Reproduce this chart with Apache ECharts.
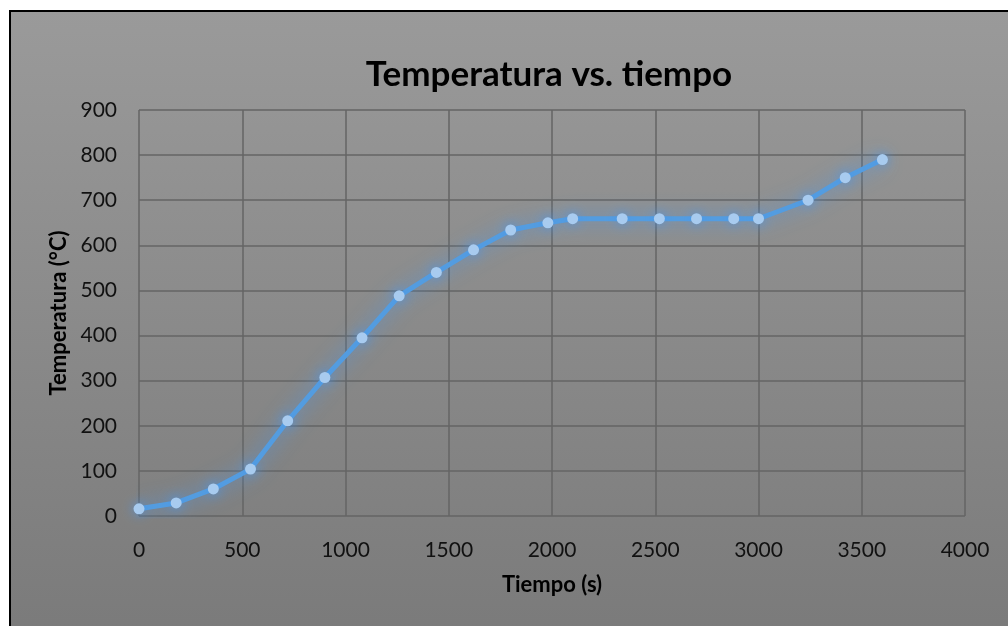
<!DOCTYPE html>
<html>
<head>
<meta charset="utf-8">
<script src="https://cdn.jsdelivr.net/npm/echarts@6/dist/echarts.min.js"></script>
<style>
  html, body { margin: 0; padding: 0; background: #fff; }
  #chart { width: 1008px; height: 626px; }
</style>
</head>
<body>
<div id="chart"></div>
<script>
// datos
var tiempo = [0, 180, 360, 540, 720, 900, 1080, 1260, 1440, 1620, 1800, 1980, 2100, 2340, 2520, 2700, 2880, 3000, 3240, 3420, 3600];
var temperatura = [16, 29, 60, 104, 211, 307, 395, 488, 540, 590, 634, 650, 659, 659, 659, 659, 659, 659, 700, 750, 790];
var yTicks = [0, 100, 200, 300, 400, 500, 600, 700, 800, 900];

var puntos = [];
for (var i = 0; i < tiempo.length; i++) {
  puntos.push([tiempo[i], temperatura[i]]);
}

var font = 'Lato, "Open Sans", sans-serif';
var myChart = echarts.init(document.getElementById('chart'));

option = {
  backgroundColor: '#ffffff',
  animation: false,
  graphic: [{
    type: 'rect',
    z: -100,
    silent: true,
    shape: { x: 10, y: 11, width: 1010, height: 630 },
    style: {
      fill: new echarts.graphic.LinearGradient(0, 0, 0, 1, [
        { offset: 0, color: '#9a9a9a' },
        { offset: 1, color: '#7a7a7a' }
      ]),
      stroke: '#000000',
      lineWidth: 2
    }
  }],
  title: {
    text: 'Temperatura vs. tiempo',
    left: 544,
    textAlign: 'center',
    top: 52,
    textStyle: { fontFamily: font, fontSize: 35, fontWeight: 'bold', color: '#000' }
  },
  grid: { left: 139, right: 43, top: 110, bottom: 110 },
  xAxis: {
    type: 'value',
    min: 0,
    max: 4000,
    interval: 500,
    name: 'Tiempo (s)',
    nameLocation: 'middle',
    nameGap: 58,
    nameTextStyle: { fontFamily: font, fontSize: 22, fontWeight: 'bold', color: '#000' },
    axisLine: { show: false },
    axisTick: { show: false },
    axisLabel: {
      margin: 24, fontFamily: font, fontSize: 21, color: '#111',
      formatter: function (v) { return String(v); }
    },
    splitLine: { show: true, lineStyle: { color: '#646464', width: 1.5 } }
  },
  yAxis: {
    type: 'value',
    min: yTicks[0],
    max: yTicks[yTicks.length - 1],
    interval: 100,
    name: 'Temperatura (°C)',
    nameLocation: 'middle',
    nameGap: 69,
    nameTextStyle: { fontFamily: font, fontSize: 22, fontWeight: 'bold', color: '#000' },
    axisLine: { show: false },
    axisTick: { show: false },
    axisLabel: { margin: 22, fontFamily: font, fontSize: 21, color: '#111' },
    splitLine: { show: true, lineStyle: { color: '#646464', width: 1.5 } }
  },
  series: [{
    type: 'line',
    data: puntos,
    symbol: 'circle',
    symbolSize: 11,
    lineStyle: {
      color: '#539ce0',
      width: 5,
      shadowColor: 'rgba(70,150,240,0.85)',
      shadowBlur: 20
    },
    itemStyle: {
      color: '#a8cbef',
      borderWidth: 0,
      shadowColor: 'rgba(70,150,240,0.9)',
      shadowBlur: 12
    }
  }]
};
myChart.setOption(option);
</script>
</body>
</html>
